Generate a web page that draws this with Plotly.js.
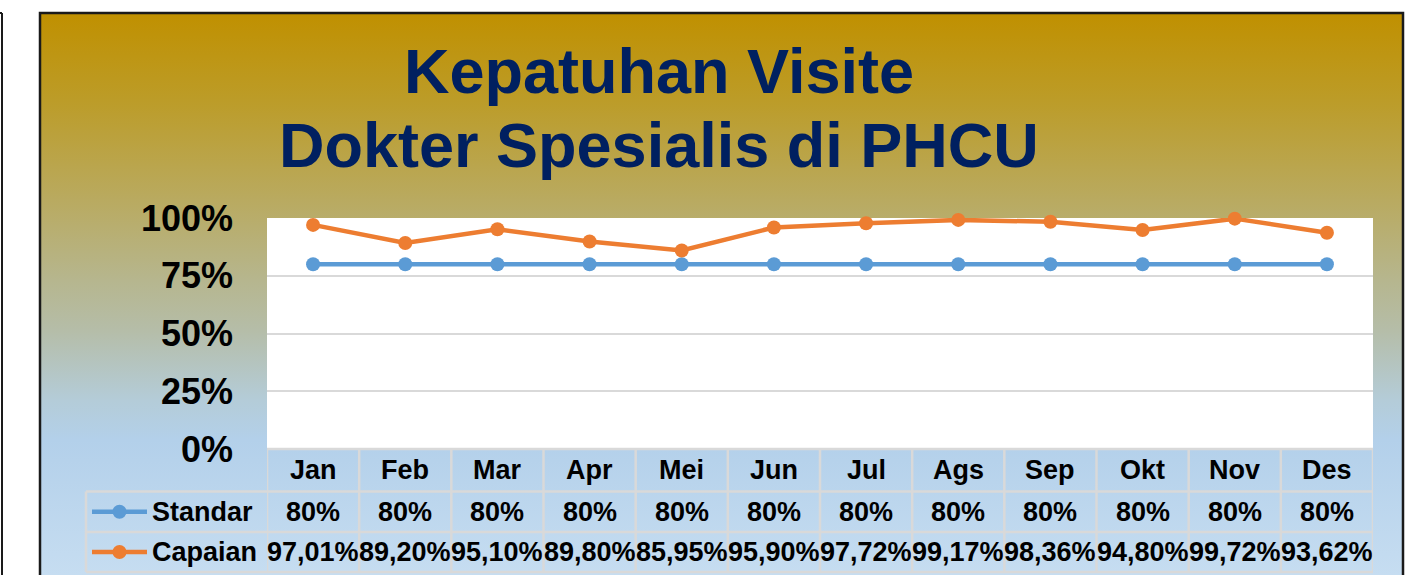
<!DOCTYPE html>
<html>
<head>
<meta charset="utf-8">
<script src="https://cdn.plot.ly/plotly-3.0.1.min.js"></script>
<style>
  html, body { margin: 0; padding: 0; background: #ffffff; }
  #wrap { position: relative; width: 1421px; height: 575px; overflow: hidden; }
  #bg { position: absolute; left: 40px; top: 13px; width: 1363px; height: 580px;
        background: linear-gradient(to bottom,
          #C09000 0px, #BC9C28 87px, #B9AA60 187px, #B6B68E 267px,
          #B5BDA8 317px, #B4CCD8 387px, #B3D0EA 427px, #C6DDF1 562px); }
  #chart { position: absolute; left: 0; top: 0; width: 1421px; height: 575px; }
</style>
</head>
<body>
<div id="wrap"><div id="bg"></div><div id="chart"></div></div>
<script>
// ---- data ----
const months = ['Jan','Feb','Mar','Apr','Mei','Jun','Jul','Ags','Sep','Okt','Nov','Des'];
const standar = [0.80,0.80,0.80,0.80,0.80,0.80,0.80,0.80,0.80,0.80,0.80,0.80];
const capaian = [0.9701,0.8920,0.9510,0.8980,0.8595,0.9590,0.9772,0.9917,0.9836,0.9480,0.9972,0.9362];
const seriesNames = ['Standar','Capaian'];
const yTicks = [0,0.25,0.5,0.75,1];
const titleLine1 = 'Kepatuhan Visite';
const titleLine2 = 'Dokter Spesialis di PHCU';

// ---- geometry helpers (pixels -> paper) ----
const W = 1421, H = 575;
const PL = 267, PR = 1373, PT = 218, PB = 449;
const px = x => (x - PL) / (PR - PL);
const py = y => (PB - y) / (PB - PT);

const FONT = 'Liberation Sans, Arial, sans-serif';
const blue = '#5B9BD5', orange = '#ED7D31', grid = '#D9D9D9', navy = '#002060';

const fmtStd = v => Math.round(v * 100) + '%';
const fmtCap = v => (v * 100).toFixed(2).replace('.', ',') + '%';

const traces = [
  { type: 'scatter', mode: 'lines+markers', name: seriesNames[0], x: months, y: standar,
    line: { color: blue, width: 4.5 }, marker: { color: blue, size: 14 }, cliponaxis: false },
  { type: 'scatter', mode: 'lines+markers', name: seriesNames[1], x: months, y: capaian,
    line: { color: orange, width: 4.5 }, marker: { color: orange, size: 14 }, cliponaxis: false }
];

const shapes = [];
const annotations = [];
const rowY = [449, 491.5, 532, 572];
// table horizontal lines
shapes.push({ type: 'line', xref: 'paper', yref: 'paper', x0: px(267), x1: px(1373), y0: py(rowY[0]), y1: py(rowY[0]), line: { color: grid, width: 2.5 } });
for (let r = 1; r < rowY.length; r++) {
  shapes.push({ type: 'line', xref: 'paper', yref: 'paper', x0: px(86), x1: px(1373), y0: py(rowY[r]), y1: py(rowY[r]), line: { color: grid, width: 2.5 } });
}
// vertical lines
for (let k = 0; k <= months.length; k++) {
  shapes.push({ type: 'line', xref: 'x', yref: 'paper', x0: k - 0.5, x1: k - 0.5, y0: py(rowY[0]), y1: py(rowY[3]), line: { color: grid, width: 2.5 } });
}
shapes.push({ type: 'line', xref: 'paper', yref: 'paper', x0: px(86), x1: px(86), y0: py(rowY[1]), y1: py(rowY[3]), line: { color: grid, width: 2.5 } });

// cell texts
const rowC = [470, 511.7, 552];
const cellFont = { family: FONT, size: 27, color: '#000000', weight: 'bold' };
months.forEach((m, i) => {
  annotations.push({ xref: 'x', yref: 'paper', x: i, y: py(rowC[0]), text: m, showarrow: false, xanchor: 'center', yanchor: 'middle', font: cellFont });
  annotations.push({ xref: 'x', yref: 'paper', x: i, y: py(rowC[1]), text: fmtStd(standar[i]), showarrow: false, xanchor: 'center', yanchor: 'middle', font: cellFont });
  annotations.push({ xref: 'x', yref: 'paper', x: i, y: py(rowC[2]), text: fmtCap(capaian[i]), showarrow: false, xanchor: 'center', yanchor: 'middle', font: cellFont });
});
// legend keys in table
[[seriesNames[0], blue, rowC[1]], [seriesNames[1], orange, rowC[2]]].forEach(([name, col, yc]) => {
  shapes.push({ type: 'line', xref: 'paper', yref: 'paper', x0: px(92), x1: px(147), y0: py(yc), y1: py(yc), line: { color: col, width: 4.5 } });
  shapes.push({ type: 'circle', xref: 'paper', yref: 'paper', xsizemode: 'pixel', ysizemode: 'pixel',
    xanchor: px(119.5), yanchor: py(yc), x0: -7, x1: 7, y0: -7, y1: 7, fillcolor: col, line: { width: 0 } });
  annotations.push({ xref: 'paper', yref: 'paper', x: px(150), y: py(yc), text: name, showarrow: false, xanchor: 'left', yanchor: 'middle', font: cellFont });
});

// frame and left sliver
shapes.push({ type: 'rect', xref: 'paper', yref: 'paper', x0: px(40), x1: px(1403), y0: py(13), y1: py(600), line: { color: '#1a1a1a', width: 2.5 }, fillcolor: 'rgba(0,0,0,0)', layer: 'above' });
shapes.push({ type: 'line', xref: 'paper', yref: 'paper', x0: px(2), x1: px(2), y0: py(13), y1: py(600), line: { color: '#1a1a1a', width: 2 } });
shapes.push({ type: 'line', xref: 'paper', yref: 'paper', x0: px(2), x1: px(-5), y0: py(13), y1: py(13), line: { color: '#1a1a1a', width: 2 } });

// title line 2
annotations.push({ xref: 'paper', yref: 'paper', x: px(659), y: py(145), text: titleLine2, showarrow: false, xanchor: 'center', yanchor: 'middle',
  font: { family: FONT, size: 63, color: navy, weight: 'bold' } });

const layout = {
  width: W, height: H,
  margin: { l: PL, r: W - PR, t: PT, b: H - PB, pad: 0 },
  paper_bgcolor: 'rgba(0,0,0,0)',
  plot_bgcolor: '#ffffff',
  showlegend: false,
  title: { text: titleLine1, xref: 'container', yref: 'container', x: 659 / W, y: 1 - 71 / H, xanchor: 'center', yanchor: 'middle',
    font: { family: FONT, size: 63, color: navy, weight: 'bold' } },
  xaxis: { type: 'category', range: [-0.5, 11.5], showticklabels: false, showgrid: false, zeroline: false, showline: false, ticks: '', fixedrange: true },
  yaxis: { range: [0, 1], tickvals: yTicks, tickformat: '.0%', showgrid: true, gridcolor: grid, gridwidth: 2, zeroline: false, showline: false, ticks: '',
    ticklabelstandoff: 33, tickfont: { family: FONT, size: 36, color: '#000000', weight: 'bold' } },
  shapes: shapes,
  annotations: annotations
};

Plotly.newPlot('chart', traces, layout, { staticPlot: true, displayModeBar: false });
</script>
</body>
</html>
